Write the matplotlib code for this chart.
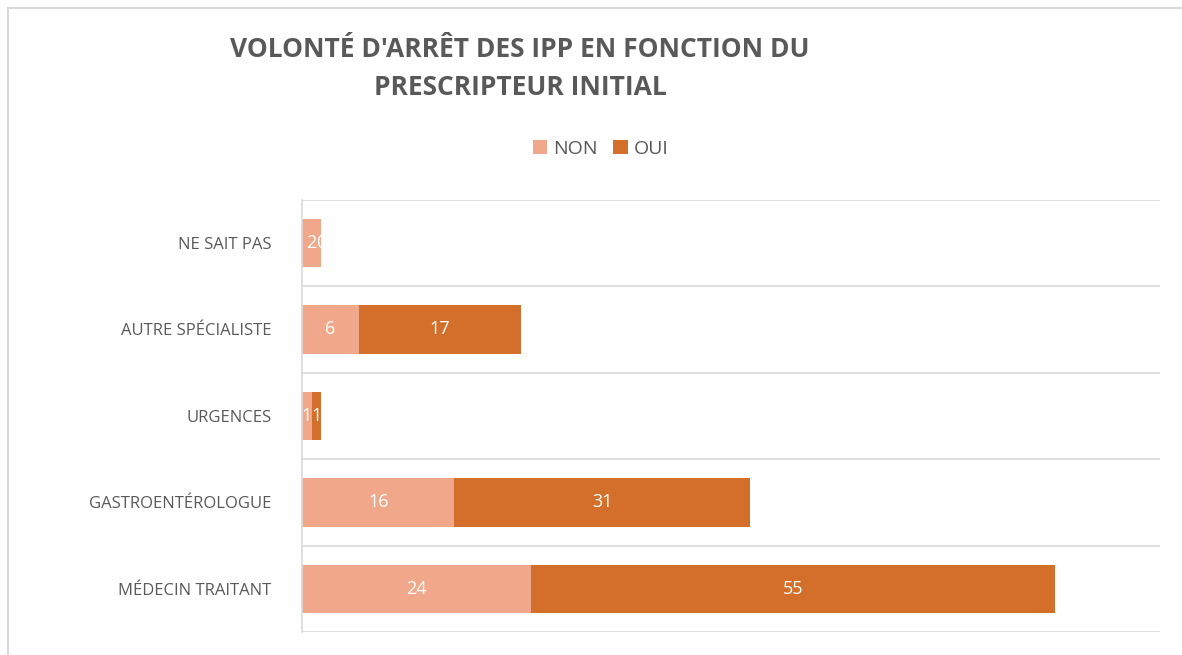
import numpy as np
import matplotlib.pyplot as plt
from matplotlib.patches import Rectangle

categories = ["MÉDECIN TRAITANT", "GASTROENTÉROLOGUE", "URGENCES",
              "AUTRE SPÉCIALISTE", "NE SAIT PAS"]
non = [24, 16, 1, 6, 2]
oui = [55, 31, 1, 17, 0]

c_non = "#F1A78A"
c_oui = "#D36F2B"
gris = "#595959"

plt.rcParams["font.family"] = ["Open Sans", "DejaVu Sans"]

fig = plt.figure(figsize=(11.82, 6.55), dpi=100)
ax = fig.add_axes([0.2555, 0.035, 0.7255, 0.66])

y = np.arange(len(categories))
b1 = ax.barh(y, non, height=0.56, color=c_non, label="NON")
b2 = ax.barh(y, oui, left=non, height=0.56, color=c_oui, label="OUI")

# etiquettes blanches au centre de chaque segment
for vals, starts in [(non, [0] * len(non)), (oui, non)]:
    for yi, v, s in zip(y, vals, starts):
        ax.text(s + v / 2, yi, str(v), ha="center", va="center",
                color="white", fontsize=13)

ax.set_xlim(0, 90)
ax.set_ylim(-0.5, 4.5)
ax.set_yticks(y)
ax.set_yticklabels(categories, fontsize=12, color=gris)
ax.tick_params(axis="y", length=0, pad=22)
ax.set_xticks([])
for b in np.arange(-0.5, 5, 1.0):
    ax.axhline(b, color="#d9d9d9", lw=1.2, zorder=0)
for s in ["top", "right", "bottom"]:
    ax.spines[s].set_visible(False)
ax.spines["left"].set_color("#d9d9d9")
ax.spines["left"].set_linewidth(1.2)

fig.text(0.44, 0.925, "VOLONTÉ D'ARRÊT DES IPP EN FONCTION DU",
         ha="center", va="center", fontsize=19, fontweight="bold", color=gris)
fig.text(0.44, 0.866, "PRESCRIPTEUR INITIAL",
         ha="center", va="center", fontsize=19, fontweight="bold", color=gris)

fig.legend(loc="center", bbox_to_anchor=(0.508, 0.773), ncol=2, frameon=False,
           fontsize=14, handlelength=0.75, handleheight=0.75, columnspacing=0.8,
           handletextpad=0.3, labelcolor=gris)

# cadre gris clair autour du graphique
fig.patches.append(Rectangle((8 / 1182, -0.1), 1.2, 1.1 - 8 / 655,
                             transform=fig.transFigure, fill=False,
                             edgecolor="#d9d9d9", lw=1.5))

fig.savefig("out.png", dpi=100)
